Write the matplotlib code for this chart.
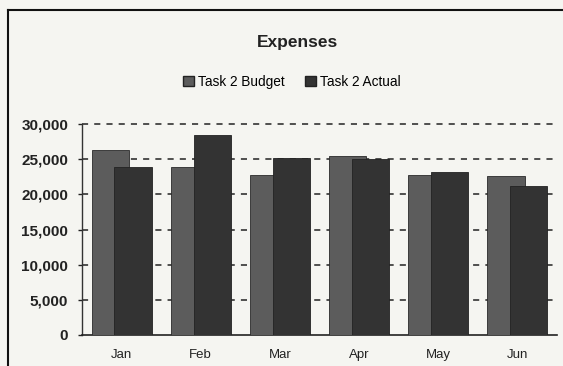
import matplotlib
matplotlib.use("Agg")
import matplotlib.pyplot as plt
import numpy as np
from matplotlib.lines import Line2D
from matplotlib.patches import Patch

months = ["Jan", "Feb", "Mar", "Apr", "May", "Jun"]
budget = [26300, 23900, 22750, 25450, 22700, 22650]
actual = [23850, 28400, 25200, 24980, 23130, 21200]
yticks = [0, 5000, 10000, 15000, 20000, 25000, 30000]
ytick_labels = ["0", "5,000", "10,000", "15,000", "20,000", "25,000", "30,000"]

bg = "#f5f5f1"
budget_color = "#5c5c5c"
actual_color = "#333333"

plt.rcParams["font.family"] = ["Liberation Sans", "DejaVu Sans"]

fig = plt.figure(figsize=(5.63, 3.66), dpi=100, facecolor=bg)
ax = fig.add_axes([82 / 563, 1 - 335 / 366, 475 / 563, 211 / 366])
ax.set_facecolor(bg)

x = np.arange(len(months))
w = 0.47
ax.bar(x - 0.145, budget, width=w, color=budget_color, edgecolor="#2a2a2a",
       linewidth=0.6, zorder=3)
ax.bar(x + 0.145, actual, width=w, color=actual_color, edgecolor="#222222",
       linewidth=0.6, zorder=4)

ax.set_xlim(-0.5, len(months) - 0.5)
ax.set_ylim(0, 30000)
ax.set_yticks(yticks)
ax.set_yticklabels(ytick_labels, fontsize=11, fontweight="bold", color="#222222")
ax.set_xticks(x)
ax.set_xticklabels(months, fontsize=9.5, color="#222222")
ax.tick_params(axis="x", length=0, pad=10)
ax.tick_params(axis="y", length=3, width=1, direction="out", pad=7, color="#222222")

for v in yticks[1:]:
    ax.axhline(v, color="#222222", linestyle=(0, (4, 4)), linewidth=1.1, zorder=1,
               clip_on=False)

for s in ["top", "right"]:
    ax.spines[s].set_visible(False)
ax.spines["left"].set_color("#333333")
ax.spines["left"].set_linewidth(1.0)
ax.spines["bottom"].set_color("#222222")
ax.spines["bottom"].set_linewidth(1.2)

fig.text(297 / 563, 1 - 42 / 366, "Expenses", ha="center", va="center",
         fontsize=12.5, fontweight="bold", color="#222222")

handles = [Patch(facecolor=budget_color, edgecolor="#222222", label="Task 2 Budget"),
           Patch(facecolor=actual_color, edgecolor="#222222", label="Task 2 Actual")]
fig.legend(handles=handles, loc="center", bbox_to_anchor=(292 / 563, 1 - 82 / 366),
           ncol=2, frameon=False, fontsize=9.8, handlelength=0.8, handleheight=0.8,
           handletextpad=0.3, columnspacing=1.5)

# outer chart frame
fig.add_artist(Line2D([8 / 563, 8 / 563], [0, 1 - 10 / 366], transform=fig.transFigure,
                      color="#111111", linewidth=1.5))
fig.add_artist(Line2D([8 / 563, 1], [1 - 10 / 366, 1 - 10 / 366], transform=fig.transFigure,
                      color="#111111", linewidth=1.5))

fig.savefig("out.png", dpi=100, facecolor=bg)
